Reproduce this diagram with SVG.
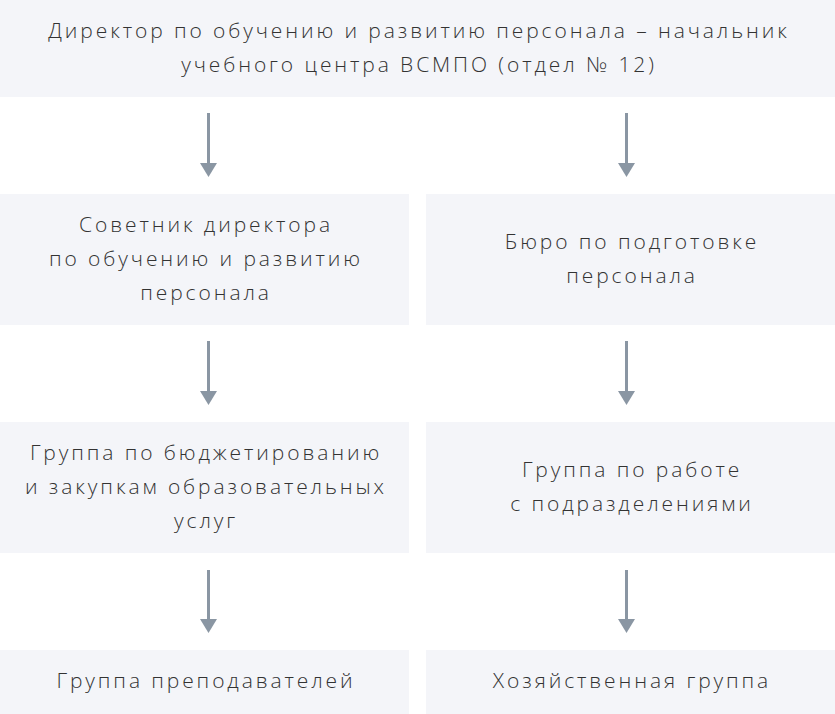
<svg xmlns="http://www.w3.org/2000/svg" width="835" height="714" viewBox="0 0 835 714">
<defs>
<style>
.box{fill:#f4f5f9}
.t{font-family:"Open Sans",Lato,"Liberation Sans",sans-serif;font-weight:300;font-size:21px;letter-spacing:2.9px;fill:#333333;text-anchor:middle}
.c{stroke:#8a96a3;stroke-width:3;fill:none}
.h{fill:#8a96a3}
</style>
</defs>
<rect width="835" height="714" fill="#ffffff"/>
<g id="director">
<rect class="box" x="0" y="0" width="835" height="97"/>
<text class="t" x="419" y="38">Директор по обучению и развитию персонала – начальник</text>
<text class="t" x="419" y="72">учебного центра ВСМПО (отдел № 12)</text>
</g>
<g id="advisor">
<rect class="box" x="0" y="194" width="409" height="131"/>
<text class="t" x="206" y="232">Советник директора</text>
<text class="t" x="206" y="266">по обучению и развитию</text>
<text class="t" x="206" y="300">персонала</text>
</g>
<g id="bureau">
<rect class="box" x="426" y="194" width="409" height="131"/>
<text class="t" x="632" y="249">Бюро по подготовке</text>
<text class="t" x="632" y="283">персонала</text>
</g>
<g id="budget">
<rect class="box" x="0" y="422" width="409" height="131"/>
<text class="t" x="206" y="460">Группа по бюджетированию</text>
<text class="t" x="206" y="494">и закупкам образовательных</text>
<text class="t" x="206" y="528">услуг</text>
</g>
<g id="divisions">
<rect class="box" x="426" y="422" width="409" height="131"/>
<text class="t" x="632" y="477">Группа по работе</text>
<text class="t" x="632" y="511">с подразделениями</text>
</g>
<g id="teachers">
<rect class="box" x="0" y="650" width="409" height="64"/>
<text class="t" x="206" y="688">Группа преподавателей</text>
</g>
<g id="household">
<rect class="box" x="426" y="650" width="409" height="64"/>
<text class="t" x="632" y="688">Хозяйственная группа</text>
</g>
<g id="connectors">
<line class="c" x1="208.5" y1="113" x2="208.5" y2="164"/>
<polygon class="h" points="200,163 217,163 208.5,177"/>
<line class="c" x1="626.5" y1="113" x2="626.5" y2="164"/>
<polygon class="h" points="618,163 635,163 626.5,177"/>
<line class="c" x1="208.5" y1="341" x2="208.5" y2="392"/>
<polygon class="h" points="200,391 217,391 208.5,405"/>
<line class="c" x1="626.5" y1="341" x2="626.5" y2="392"/>
<polygon class="h" points="618,391 635,391 626.5,405"/>
<line class="c" x1="208.5" y1="570" x2="208.5" y2="620"/>
<polygon class="h" points="200,619 217,619 208.5,633"/>
<line class="c" x1="626.5" y1="570" x2="626.5" y2="620"/>
<polygon class="h" points="618,619 635,619 626.5,633"/>
</g>
</svg>
